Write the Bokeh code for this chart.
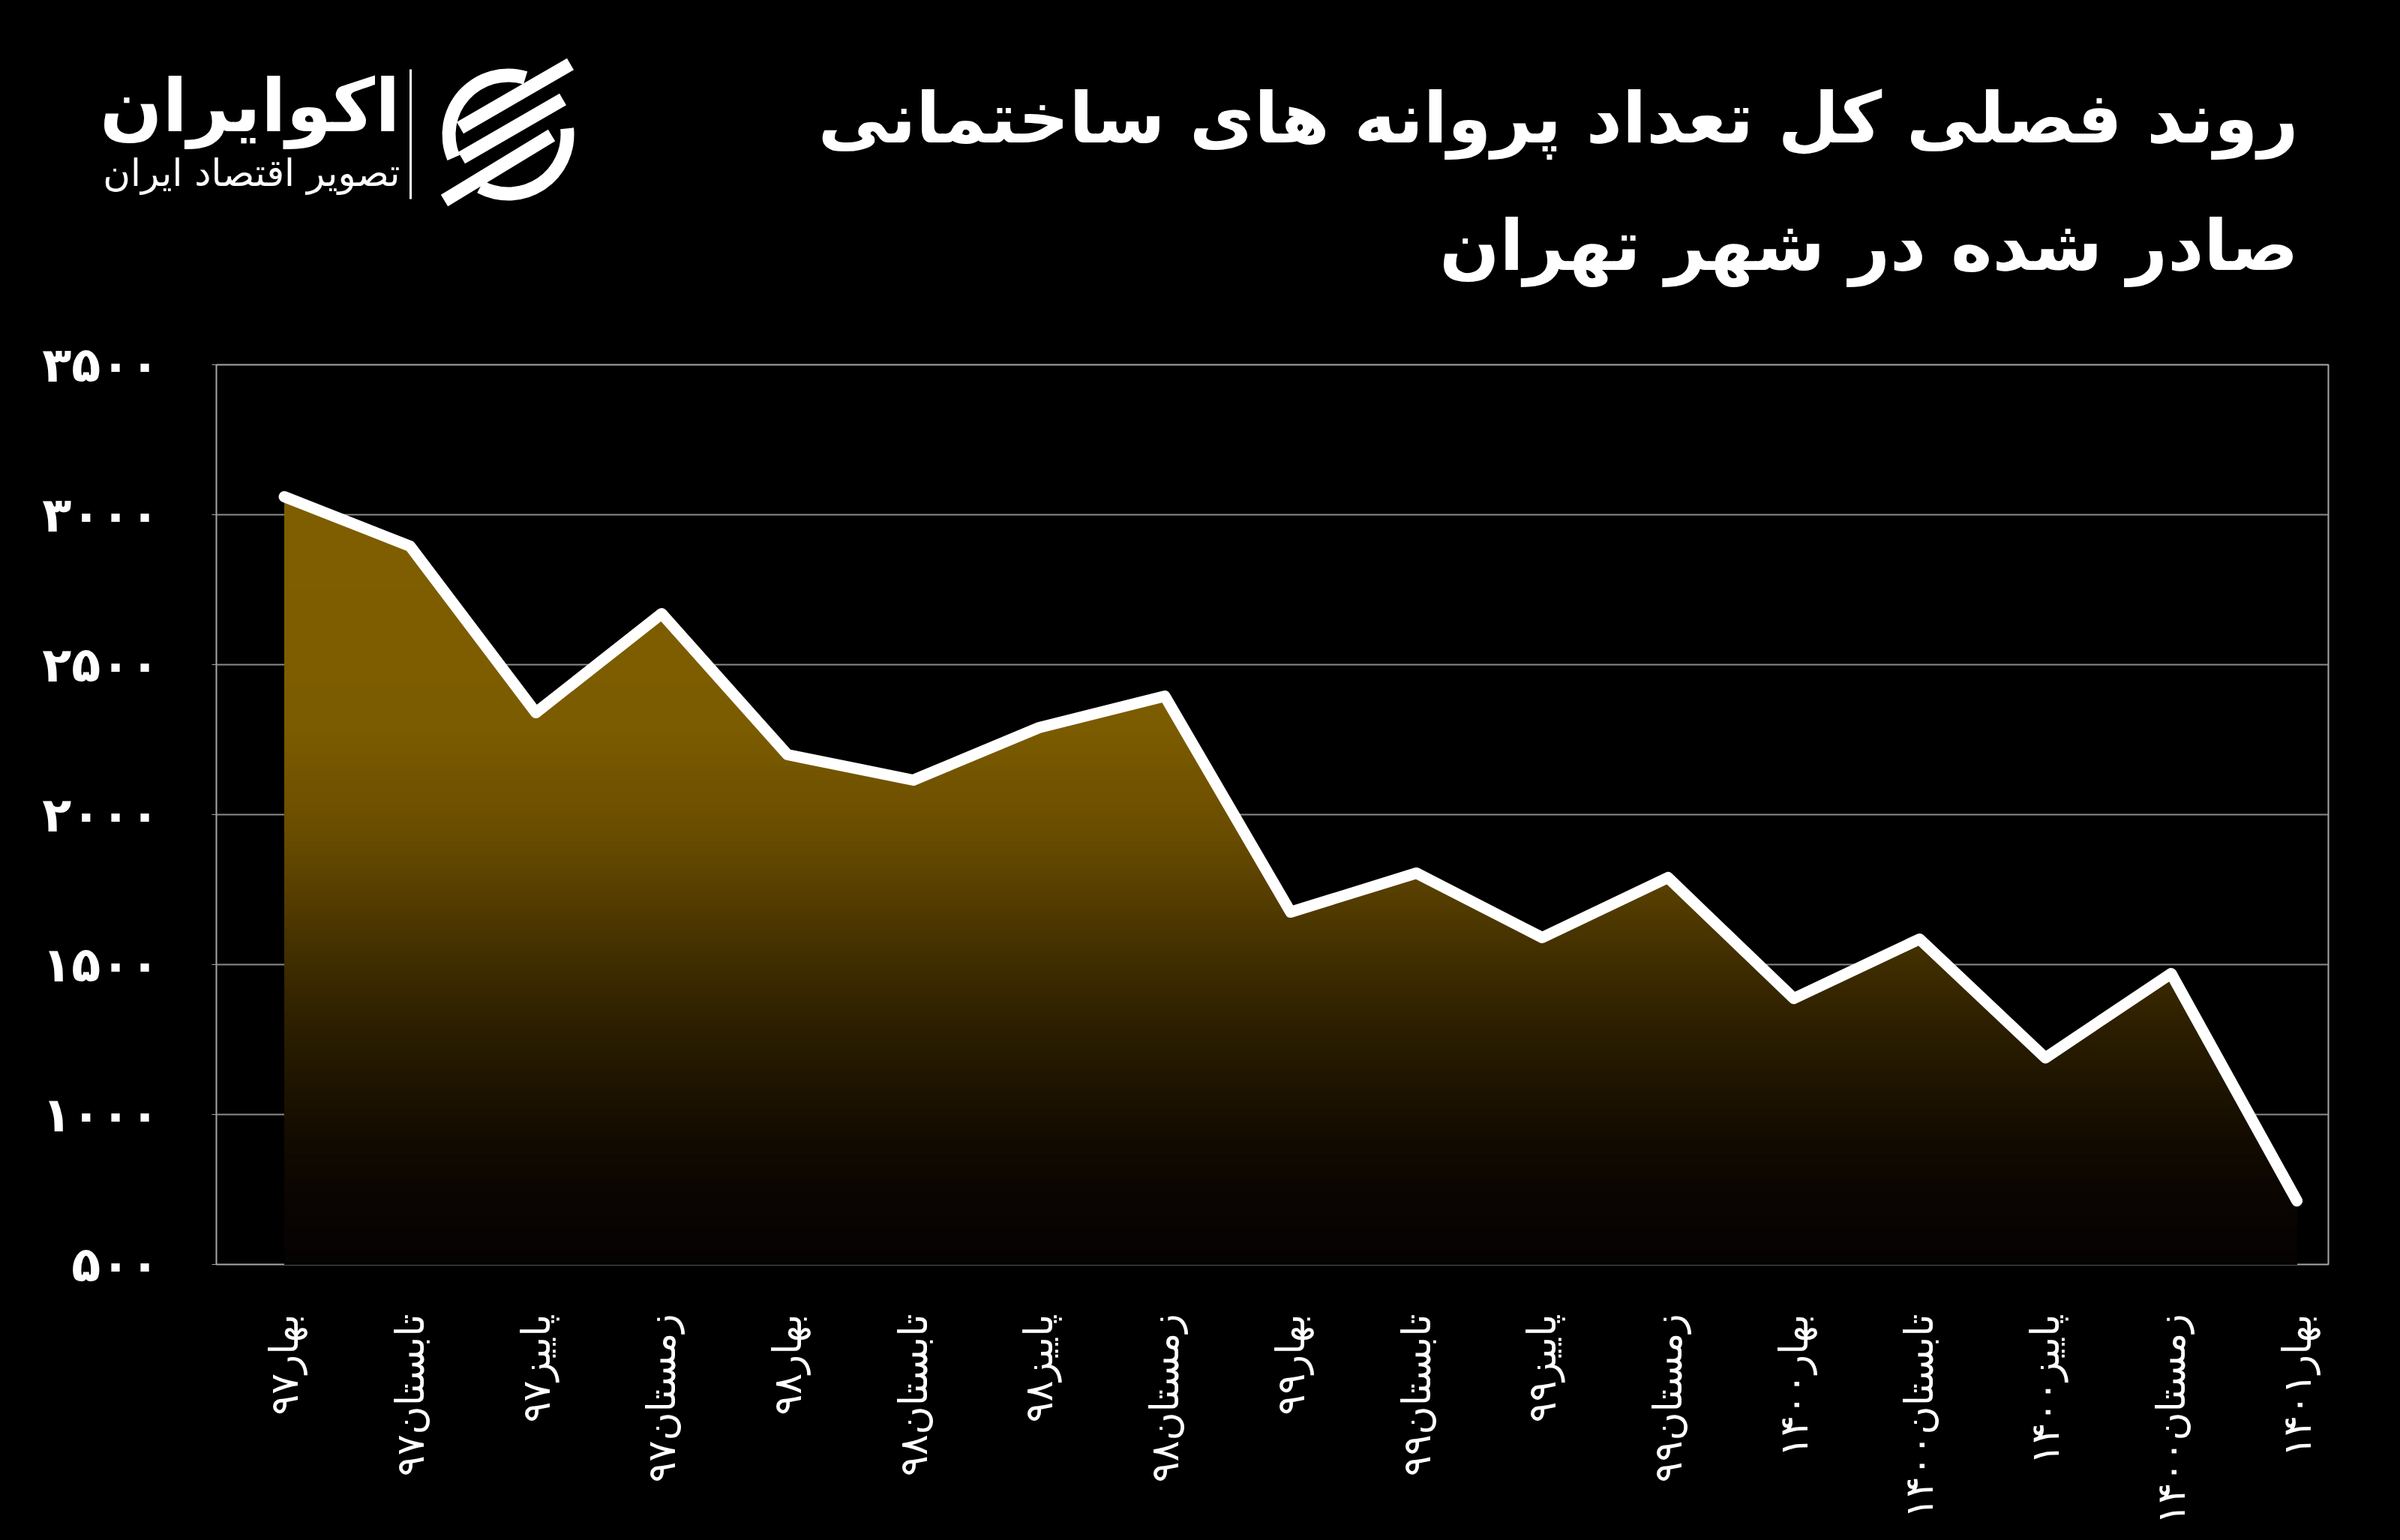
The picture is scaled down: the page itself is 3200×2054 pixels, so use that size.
import numpy as np
from bokeh.plotting import figure
from bokeh.layouts import column
from bokeh.models import Range1d, FixedTicker
from bokeh.core.properties import value
from bokeh.embed import file_html
from bokeh.resources import INLINE

# ---------------- data ----------------
seasons = ["بهار۹۷", "تابستان۹۷", "پاییز۹۷", "زمستان۹۷",
           "بهار۹۸", "تابستان۹۸", "پاییز۹۸", "زمستان۹۸",
           "بهار۹۹", "تابستان۹۹", "پاییز۹۹", "زمستان۹۹",
           "بهار۱۴۰۰", "تابستان۱۴۰۰", "پاییز۱۴۰۰", "زمستان۱۴۰۰",
           "بهار۱۴۰۱"]
permits = [3060, 2895, 2340, 2670, 2200, 2115, 2290, 2395,
           1675, 1805, 1590, 1790, 1387, 1585, 1189, 1470, 712]
y_ticks = [500, 1000, 1500, 2000, 2500, 3000, 3500]
y_tick_labels = ["۵۰۰", "۱۰۰۰", "۱۵۰۰", "۲۰۰۰", "۲۵۰۰", "۳۰۰۰", "۳۵۰۰"]
title_line1 = "روند فصلی کل تعداد پروانه های ساختمانی"
title_line2 = "صادر شده در شهر تهران"
brand = "اکوایران"
brand_sub = "تصویر اقتصاد ایران"

# gradient stops (value level -> colour)
grad_levels = [500, 600, 770, 940, 1100, 1270, 1440, 1600, 1775, 1950, 2300, 3500]
grad_colors = ["#050202", "#070302", "#0c0602", "#140c00", "#1e1400", "#2a1d00",
               "#392800", "#483400", "#5a4100", "#6a4d00", "#7c5c00", "#806000"]

W, H = 3200, 2054
HEAD_H = 420
FONT = "DejaVu Sans"

# ---------------- header ----------------
head = figure(width=W, height=HEAD_H, x_range=Range1d(0, W), y_range=Range1d(0, HEAD_H),
              toolbar_location=None, output_backend="svg",
              min_border_left=0, min_border_right=0, min_border_top=0, min_border_bottom=0,
              background_fill_color="black", border_fill_color="black",
              outline_line_color=None)
head.frame_align = False
head.xaxis.visible = False
head.yaxis.visible = False
head.xgrid.visible = False
head.ygrid.visible = False

head.text(x=[3064, 3064], y=[263, 93], text=[title_line1, title_line2],
          text_align="right", text_baseline="middle",
          text_color="white", text_font=value(FONT), text_font_style="bold",
          text_font_size="94px")
head.segment(x0=[547], y0=[155], x1=[547], y1=[328], line_color="white", line_width=3)
head.annular_wedge(x=[677, 677], y=[241, 241], inner_radius=70, outer_radius=88,
                   start_angle=[np.deg2rad(73), np.deg2rad(242)],
                   end_angle=[np.deg2rad(203), np.deg2rad(366)],
                   fill_color="white", line_color=None)
head.segment(x0=[613, 615, 592], y0=[250, 210, 153], x1=[760, 750, 735], y1=[335, 288, 240],
             line_color="white", line_width=18)
head.text(x=[533], y=[280], text=[brand], text_align="right", text_baseline="middle",
          text_color="white", text_font=value(FONT), text_font_style="bold",
          text_font_size="98px")
head.text(x=[533], y=[190], text=[brand_sub], text_align="right", text_baseline="middle",
          text_color="white", text_font=value(FONT), text_font_size="50px")

# ---------------- main chart ----------------
xs = list(range(len(permits)))

p = figure(width=W, height=H - HEAD_H, x_range=Range1d(-0.54, 16.25), y_range=Range1d(500, 3500),
           toolbar_location=None, output_backend="svg",
           min_border_left=288, min_border_right=96, min_border_top=66, min_border_bottom=368,
           background_fill_color="black", border_fill_color="black",
           outline_line_color="#a8a8a8", outline_line_width=2)
p.frame_align = False

# gradient fill under the line: stacked polygons capped at successive levels
def capped(xv, yv, level):
    ox, oy = [], []
    for i in range(len(xv)):
        if i > 0:
            y0, y1 = yv[i - 1], yv[i]
            if (y0 - level) * (y1 - level) < 0:
                t = (level - y0) / (y1 - y0)
                ox.append(xv[i - 1] + t * (xv[i] - xv[i - 1]))
                oy.append(level)
        ox.append(xv[i])
        oy.append(min(yv[i], level))
    return ox, oy

def hex2rgb(h):
    return [int(h[i:i + 2], 16) for i in (1, 3, 5)]

rgb = np.array([hex2rgb(c) for c in grad_colors], dtype=float)
band_levels = np.arange(3100, 500, -8)
poly_x, poly_y, poly_c = [], [], []
for lv in band_levels:
    cx, cy = capped(xs, permits, float(lv))
    poly_x.append([float(v) for v in cx] + [float(xs[-1]), float(xs[0])])
    poly_y.append([float(v) for v in cy] + [500.0, 500.0])
    r, g, b = (int(round(np.interp(lv, grad_levels, rgb[:, k]))) for k in range(3))
    poly_c.append("#%02x%02x%02x" % (r, g, b))
p.patches(xs=poly_x, ys=poly_y, fill_color=poly_c, line_color=None)

p.line(xs, permits, line_color="white", line_width=15, line_join="round", line_cap="round")

# axes
p.yaxis.ticker = FixedTicker(ticks=y_ticks)
p.yaxis.major_label_overrides = {t: l for t, l in zip(y_ticks, y_tick_labels)}
p.yaxis.major_label_text_font = FONT
p.yaxis.major_label_text_font_style = "bold"
p.yaxis.major_label_text_font_size = "64px"
p.yaxis.major_label_text_color = "white"
p.yaxis.major_label_standoff = 70
p.yaxis.axis_line_color = None
p.yaxis.major_tick_line_color = "#a8a8a8"
p.yaxis.major_tick_out = 6
p.yaxis.major_tick_in = 0
p.yaxis.minor_tick_line_color = None

p.xaxis.ticker = FixedTicker(ticks=xs)
p.xaxis.major_label_overrides = {t: s for t, s in zip(xs, seasons)}
p.xaxis.major_label_orientation = np.pi / 2
p.xaxis.major_label_text_font = FONT
p.xaxis.major_label_text_font_size = "52px"
p.xaxis.major_label_text_color = "white"
p.xaxis.major_label_standoff = 60
p.xaxis.axis_line_color = None
p.xaxis.major_tick_line_color = None
p.xaxis.minor_tick_line_color = None

p.xgrid.grid_line_color = None
p.ygrid.grid_line_color = "#8c8c8c"
p.ygrid.grid_line_width = 2

layout = column(head, p, spacing=0)
html = file_html(layout, INLINE)
html = html.replace("</head>", "<style>html,body{background:#000000;margin:0;}</style></head>", 1)
open("out.html", "w").write(html)
